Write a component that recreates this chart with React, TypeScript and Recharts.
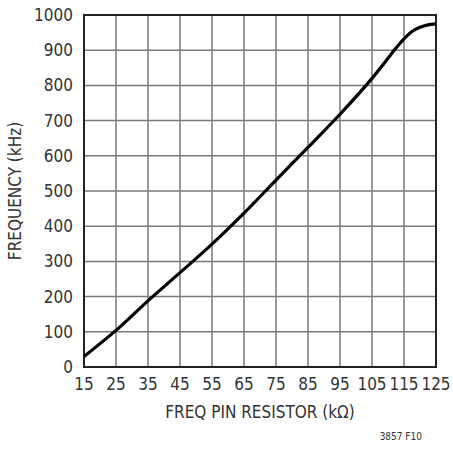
import React from 'react';
import { LineChart, Line, XAxis, YAxis, CartesianGrid, ReferenceArea, Label } from 'recharts';

const resistorK = [15, 25, 35, 45, 55, 65, 75, 85, 95, 105, 110, 112.5, 115, 117.5, 120, 122.5, 125];
const frequencyKHz = [30, 104, 188, 268, 349, 437, 531, 624, 718, 820, 877, 906, 932, 953, 965, 972, 975];
const xTicks = [15, 25, 35, 45, 55, 65, 75, 85, 95, 105, 115, 125];
const yTicks = [0, 100, 200, 300, 400, 500, 600, 700, 800, 900, 1000];

const data = resistorK.map((r, i) => ({ r, f: frequencyKHz[i] }));

const FONT = '"DejaVu Sans Condensed", "Liberation Sans", Arial, sans-serif';
const TEXT = '#333';

export default function App() {
  return (
    <div style={{ position: 'absolute', left: 0, top: 0, width: 453, height: 449, background: '#fff' }}>
      <LineChart width={453} height={449} data={data} margin={{ top: 15, right: 17, left: 0, bottom: 0 }}>
        <CartesianGrid stroke="#7a7a7a" strokeWidth={1.5} />
        <XAxis
          dataKey="r"
          type="number"
          domain={[15, 125]}
          ticks={xTicks}
          height={82}
          tickSize={0}
          tickMargin={11}
          axisLine={false}
          tick={{ fill: TEXT, fontSize: 17, fontFamily: FONT }}
          interval={0}
        >
          <Label
            content={({ viewBox }: any) => (
              <text
                x={viewBox.x + viewBox.width / 2}
                y={viewBox.y + 45}
                textAnchor="middle"
                dominantBaseline="central"
                fill={TEXT}
                fontSize={17}
                fontFamily={FONT}
              >
                FREQ PIN RESISTOR (kΩ)
              </text>
            )}
          />
        </XAxis>
        <YAxis
          type="number"
          domain={[0, 1000]}
          ticks={yTicks}
          width={84}
          tickSize={0}
          tickMargin={11}
          axisLine={false}
          tick={{ fill: TEXT, fontSize: 17, fontFamily: FONT }}
          interval={0}
        >
          <Label
            content={({ viewBox }: any) => {
              const cx = 15;
              const cy = viewBox.y + viewBox.height / 2;
              return (
                <text
                  x={cx}
                  y={cy}
                  transform={`rotate(-90 ${cx} ${cy})`}
                  textAnchor="middle"
                  dominantBaseline="central"
                  fill={TEXT}
                  fontSize={17}
                  fontFamily={FONT}
                >
                  FREQUENCY (kHz)
                </text>
              );
            }}
          />
        </YAxis>
        <ReferenceArea x1={15} x2={125} y1={0} y2={1000} fill="none" stroke="#222" strokeWidth={2} ifOverflow="visible" />
        <Line
          type="monotone"
          dataKey="f"
          stroke="#000"
          strokeWidth={3.2}
          dot={false}
          isAnimationActive={false}
        />
      </LineChart>
      <div
        style={{
          position: 'absolute',
          right: 31,
          top: 431,
          fontFamily: FONT,
          fontSize: 10,
          color: TEXT,
          lineHeight: '12px',
        }}
      >
        3857 F10
      </div>
    </div>
  );
}
